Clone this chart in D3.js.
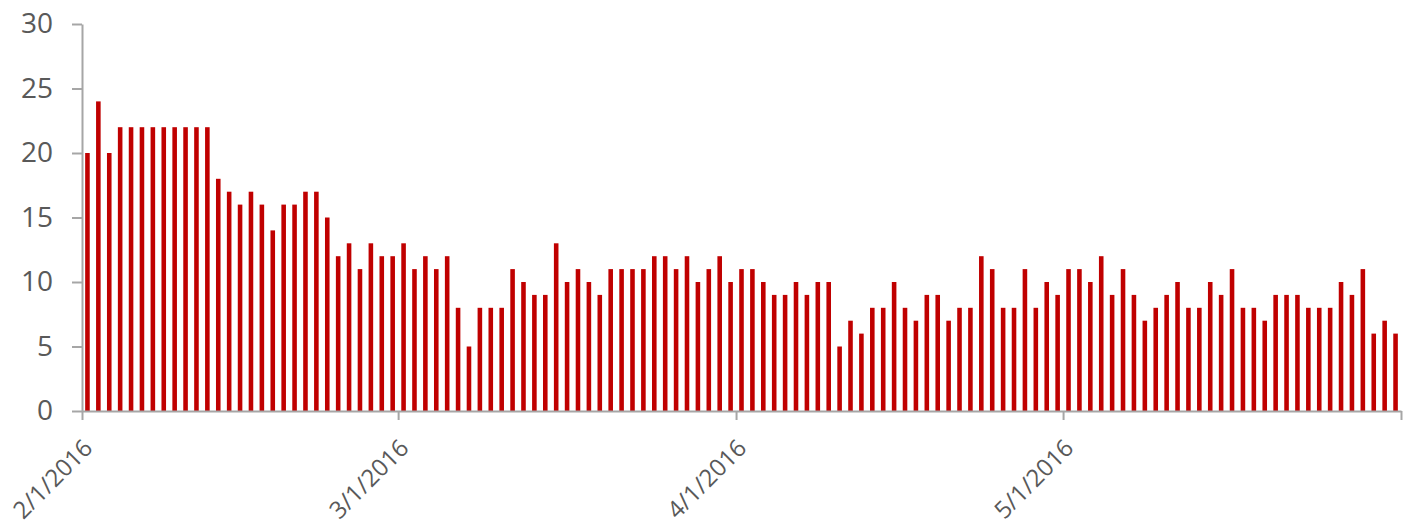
<!DOCTYPE html>
<html>
<head>
<meta charset="utf-8">
<script src="https://cdn.jsdelivr.net/npm/d3@7"></script>
<style>
  html, body { margin: 0; padding: 0; background: #fff; }
  svg { display: block; }
  .axis text { font-family: "Open Sans", "Liberation Sans", sans-serif; fill: #595959; }
  .axis path, .axis line { stroke: #a6a6a6; stroke-width: 2; }
</style>
</head>
<body>
<svg id="chart" width="1412" height="529"></svg>
<script>
// Daily counts, 1 Feb 2016 through 31 May 2016
const startDate = new Date(2016, 1, 1);
const endDate = new Date(2016, 5, 1);
const dailyValues = [
  20, 24, 20, 22, 22, 22, 22, 22, 22, 22, 22, 22, 18, 17, 16, 17, 16, 14, 16, 16,
  17, 17, 15, 12, 13, 11, 13, 12, 12,
  13, 11, 12, 11, 12, 8, 5, 8, 8, 8, 11, 10, 9, 9, 13, 10, 11, 10, 9, 11, 11,
  11, 11, 12, 12, 11, 12, 10, 11, 12, 10,
  11, 11, 10, 9, 9, 10, 9, 10, 10, 5, 7, 6, 8, 8, 10, 8, 7, 9, 9, 7,
  8, 8, 12, 11, 8, 8, 11, 8, 10, 9,
  11, 11, 10, 12, 9, 11, 9, 7, 8, 9, 10, 8, 8, 10, 9, 11, 8, 8, 7, 9,
  9, 9, 8, 8, 8, 10, 9, 11, 6, 7, 6
];
const dates = d3.timeDay.range(startDate, endDate);
const yTicks = [0, 5, 10, 15, 20, 25, 30];
const monthTicks = d3.timeMonth.range(startDate, d3.timeDay.offset(endDate, 1));
const data = dates.map((d, i) => ({ date: d, value: dailyValues[i] }));

const svg = d3.select("#chart");
const plot = { left: 82, right: 1401, top: 24, bottom: 411 };

const x = d3.scaleTime().domain([startDate, endDate]).range([plot.left, plot.right]);
const y = d3.scaleLinear().domain([0, 30]).range([plot.bottom, plot.top]);
const dayWidth = x(d3.timeDay.offset(startDate, 1)) - x(startDate);
const barWidth = dayWidth * 0.42;

// Bars, centred within each day
svg.append("g")
  .selectAll("rect")
  .data(data)
  .join("rect")
  .attr("x", d => x(d.date) + dayWidth / 2 - barWidth / 2)
  .attr("y", d => y(d.value))
  .attr("width", barWidth)
  .attr("height", d => y(0) - y(d.value))
  .attr("fill", "#c00000");

// Y axis
const yAxis = svg.append("g")
  .attr("class", "axis")
  .attr("transform", `translate(${plot.left},0)`)
  .call(d3.axisLeft(y).tickValues(yTicks).tickSize(10).tickPadding(19).tickSizeOuter(0));
yAxis.selectAll("text").style("font-size", "28px");

// X axis with month ticks
const xAxis = svg.append("g")
  .attr("class", "axis")
  .attr("transform", `translate(0,${plot.bottom})`)
  .call(d3.axisBottom(x).tickValues(monthTicks).tickSize(9).tickSizeOuter(0)
    .tickFormat(d => d < endDate ? d3.timeFormat("%-m/%-d/%Y")(d) : ""));
xAxis.selectAll("text")
  .style("font-size", "24px")
  .attr("text-anchor", "end")
  .attr("dy", "0")
  .attr("transform", "translate(3,30) rotate(-45)");
</script>
</body>
</html>
